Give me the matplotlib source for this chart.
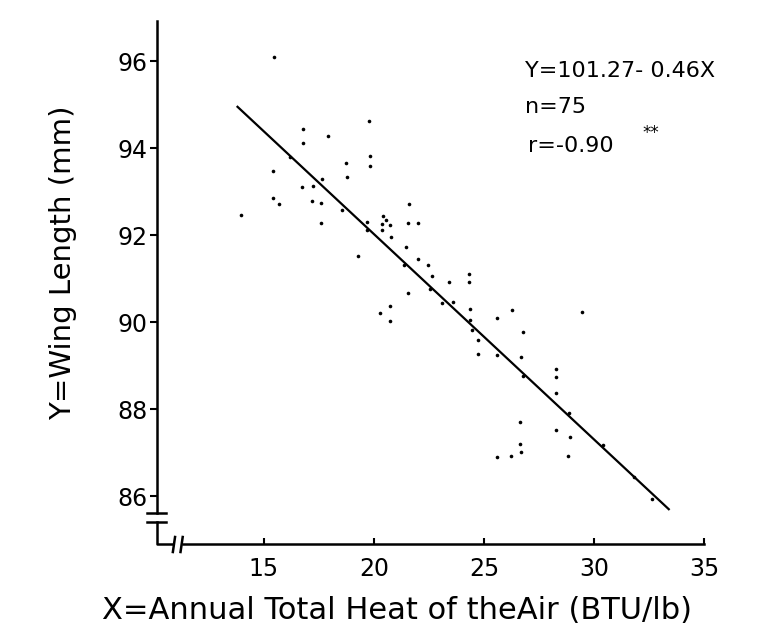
import numpy as np
import matplotlib.pyplot as plt

plt.rcParams['font.family'] = ['DejaVu Sans']

# heat of the air (BTU/lb) and wing length (mm)
heat = [13.95, 15.45, 15.42, 15.42, 15.68, 16.17, 16.77, 16.76, 16.74, 17.23,
        17.18, 17.58, 17.65, 17.60, 17.90, 18.73, 18.76, 18.53, 19.29, 19.77,
        19.82, 19.83, 19.70, 19.67, 20.41, 20.55, 20.36, 20.38, 20.73, 20.79,
        21.59, 21.55, 21.98, 21.44, 22.01, 21.35, 22.45, 22.62, 22.56, 21.55,
        23.42, 24.32, 24.32, 23.08, 23.59, 20.29, 20.71, 20.74, 24.38, 24.35,
        24.44, 24.71, 24.71, 25.58, 25.58, 26.26, 26.79, 26.70, 26.76, 29.47,
        28.29, 28.29, 28.26, 28.86, 26.64, 28.26, 28.91, 30.42, 26.62, 26.68,
        25.60, 26.23, 28.82, 31.82, 32.62]
wing = [92.47, 96.09, 93.48, 92.85, 92.71, 93.79, 94.45, 94.11, 93.10, 93.13,
        92.78, 92.74, 93.29, 92.28, 94.29, 93.66, 93.34, 92.57, 91.53, 94.63,
        93.82, 93.59, 92.31, 92.11, 92.45, 92.34, 92.26, 92.11, 92.24, 91.95,
        92.71, 92.29, 92.27, 91.72, 91.46, 91.31, 91.31, 91.07, 90.76, 90.67,
        90.93, 91.10, 90.92, 90.44, 90.46, 90.21, 90.38, 90.03, 90.31, 90.05,
        89.82, 89.58, 89.26, 90.10, 89.24, 90.27, 89.77, 89.20, 88.77, 90.23,
        88.92, 88.74, 88.38, 87.92, 87.70, 87.51, 87.35, 87.18, 87.19, 87.01,
        86.89, 86.93, 86.92, 86.45, 85.93]

# fitted line end points as drawn
fit_x = [13.8, 33.4]
fit_y = [94.95, 85.7]

xticks = [15, 20, 25, 30, 35]
yticks = [86, 88, 90, 92, 94, 96]

fig = plt.figure(figsize=(7.73, 6.3), dpi=100)
ax = fig.add_axes([0.2031, 0.1365, 0.7076, 0.830])

ax.plot(heat, wing, 'o', color='black', markersize=2.6, markeredgewidth=0)
ax.plot(fit_x, fit_y, color='black', lw=1.6)

ax.set_xlim(10.14, 35)
ax.set_ylim(84.9, 96.92)
ax.set_xticks(xticks)
ax.set_yticks(yticks)
ax.tick_params(axis='x', direction='in', length=4, width=1.5, pad=9, labelsize=17)
ax.tick_params(axis='y', direction='out', length=5, width=1.5, pad=2, labelsize=17)

for s in ax.spines.values():
    s.set_visible(False)

# axes drawn by hand with break marks
k = dict(color='black', lw=1.8, transform=ax.transAxes, clip_on=False)
ax.plot([0, 0], [1, 0.0593], **k)
ax.plot([-0.0183, 0.0165], [0.0593, 0.0593], **k)
ax.plot([-0.0183, 0.0165], [0.0421, 0.0421], **k)
ax.plot([0, 0, 0.0274], [0.0421, 0, 0], **k)
ax.plot([0.029, 0.033], [-0.0153, 0.0134], **k)
ax.plot([0.043, 0.047], [-0.0153, 0.0134], **k)
ax.plot([0.0475, 1.0], [0, 0], **k)

ax.set_ylabel('Y=Wing Length (mm)', fontsize=21)
ax.yaxis.set_label_coords(-0.146, 0.537)
ax.set_xlabel('X=Annual Total Heat of theAir (BTU/lb)', fontsize=22)
ax.xaxis.set_label_coords(0.439, -0.099)

ax.text(0.673, 0.893, 'Y=101.27- 0.46X', transform=ax.transAxes, fontsize=16, va='baseline')
ax.text(0.673, 0.824, 'n=75', transform=ax.transAxes, fontsize=16, va='baseline')
ax.text(0.679, 0.750, 'r=-0.90', transform=ax.transAxes, fontsize=16, va='baseline')
ax.text(0.888, 0.803, '**', transform=ax.transAxes, fontsize=12, va='top')

fig.savefig('out.png', dpi=100)
